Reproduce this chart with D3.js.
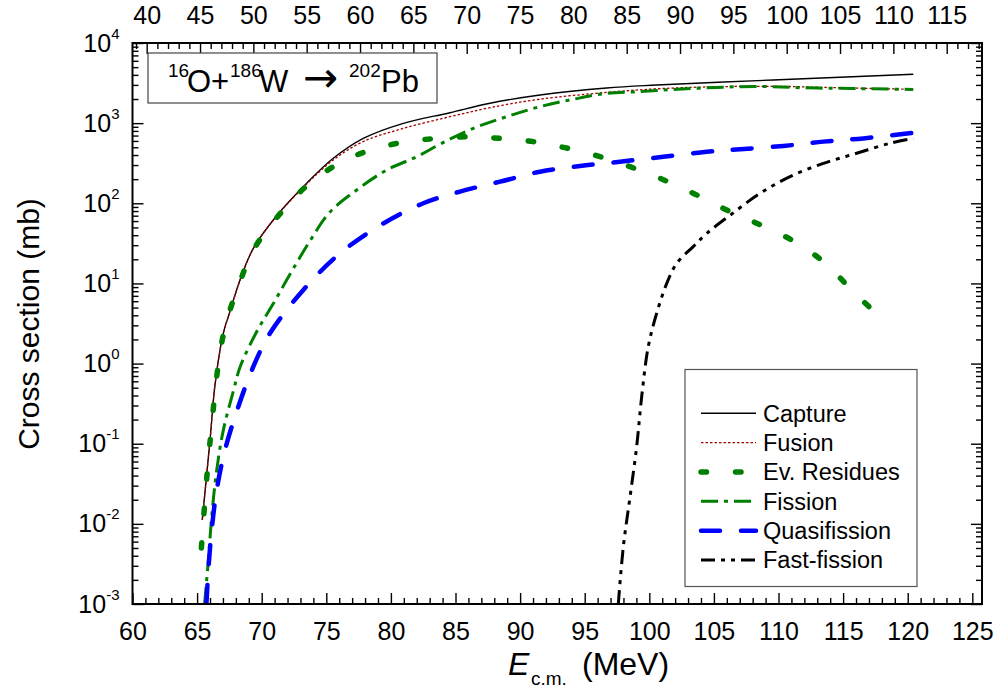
<!DOCTYPE html>
<html><head><meta charset="utf-8">
<script src="https://cdn.jsdelivr.net/npm/d3@7"></script>
<style>
body{margin:0;background:#fff;}
svg text{font-family:"Liberation Sans",Arial,Helvetica,sans-serif;fill:#000;}
</style></head><body>
<svg id="chart" width="996" height="698"></svg>
<script>
// ---------- data ----------
const xTickLabels = [60,65,70,75,80,85,90,95,100,105,110,115,120,125];
const topTickLabels = [40,45,50,55,60,65,70,75,80,85,90,95,100,105,110,115];
const yTickExponents = [-3,-2,-1,0,1,2,3,4];

const captureE = [65.40,66.00,66.39,67.03,67.55,68.32,69.35,71.16,73.48,75.54,77.86,80.96,84.57,87.67,91.54,96.70,100.57,109.60,114.76,120.43];
const captureS = [0.0112,0.111,0.55,2.4,4.5,11,27.4,70,178,364,645,995,1350,1770,2245,2750,2990,3460,3730,4075];

const fusionE = [65.40,66.00,66.39,67.03,67.55,68.32,69.35,71.16,73.48,75.54,77.86,80.96,84.57,87.67,91.54,96.70,100.57,104.44,109.60,114.76,120.43];
const fusionS = [0.0112,0.111,0.55,2.35,4.45,10.9,27.2,69,174,347,589,861,1203,1560,1990,2420,2680,2830,2880,2760,2640];

const residuesE = [65.33,66.00,67.03,68.32,69.35,71.16,73.48,76.20,78.64,81.22,83.54,86.12,88.44,91.02,93.47,95.93,98.51,100.96,103.54,105.99,108.44,111.02,113.47,115.79,118.50];
const residuesS = [0.005,0.105,2.3,10.5,26,66,165,330,472,588,645,678,645,588,494,393,286,201,130,82.4,55.2,34.8,18.7,7.9,3.03];

const fissionE = [65.58,65.87,66.13,66.52,67.03,67.80,68.32,69.61,70.90,72.19,73.74,75.29,77.35,79.67,82.00,83.92,86.38,88.96,91.54,94.12,96.70,99.28,101.86,104.44,107.02,109.60,112.18,114.76,117.31,120.43];
const fissionS = [0.001,0.0035,0.0123,0.047,0.148,0.45,0.9,2.5,5.6,13.0,34.0,78,146.5,260,381,560,861,1203,1607,1985,2355,2470,2630,2755,2850,2850,2755,2720,2680,2630];

const quasiE = [65.72,65.87,66.13,66.52,67.16,68.19,69.35,70.64,73.22,76.07,79.41,82.51,85.35,88.45,91.54,94.64,97.73,101.08,104.44,107.02,110.37,113.47,116.56,120.43];
const quasiS = [0.001,0.00265,0.0084,0.0265,0.0836,0.29,0.914,2.39,8.3,23.8,56,100,140,186,248,292,330,381,440,472,519,588,645,760];

const fastE = [97.60,97.99,98.51,99.02,99.41,99.92,100.57,101.35,102.12,103.40,104.44,106.38,108.57,110.89,113.47,116.05,118.63,120.43];
const fastS = [0.001,0.0052,0.0218,0.0918,0.386,1.63,4.24,10.0,17.8,28.8,42,73.5,133,215,315,421,561,645];

const seriesNames = ["Capture","Fusion","Ev. Residues","Fission","Quasifission","Fast-fission"];

// ---------- layout ----------
const L = 132.5, R = 982, T = 43, B = 604;
const svg = d3.select("#chart");
const x = d3.scaleLinear().domain([60,125.75]).range([L,R]);
const xTop = d3.scaleLinear().domain([38.67,118.31]).range([L,R]);
const y = d3.scaleLog().domain([1e-3,1e4]).range([B,T]);

const styles = {
  "Capture":      {color:"#000000", width:1.4, dash:null, cap:"butt"},
  "Fusion":       {color:"#a00000", width:1.3, dash:"2.5,2", cap:"butt"},
  "Ev. Residues": {color:"#008000", width:5.5, dash:"5.5,29", cap:"round"},
  "Fission":      {color:"#008000", width:3, dash:"17,6,4,6", cap:"butt"},
  "Quasifission": {color:"#0000ff", width:4.5, dash:"19,21", cap:"round"},
  "Fast-fission": {color:"#000000", width:3, dash:"14,6,4,6,4,6", cap:"butt"}
};
const seriesData = {
  "Capture": captureE.map((e,i)=>[e,captureS[i]]),
  "Fusion": fusionE.map((e,i)=>[e,fusionS[i]]),
  "Ev. Residues": residuesE.map((e,i)=>[e,residuesS[i]]),
  "Fission": fissionE.map((e,i)=>[e,fissionS[i]]),
  "Quasifission": quasiE.map((e,i)=>[e,quasiS[i]]),
  "Fast-fission": fastE.map((e,i)=>[e,fastS[i]])
};

svg.append("defs").append("clipPath").attr("id","plotclip")
  .append("rect").attr("x",L).attr("y",T).attr("width",R-L).attr("height",B-T);

// ---------- curves ----------
const line = d3.line().x(d=>x(d[0])).y(d=>y(d[1])).curve(d3.curveCatmullRom.alpha(0.5));
const gCurves = svg.append("g").attr("clip-path","url(#plotclip)");
seriesNames.forEach(n=>{
  const s = styles[n];
  gCurves.append("path").datum(seriesData[n]).attr("d",line)
    .attr("fill","none").attr("stroke",s.color).attr("stroke-width",s.width)
    .attr("stroke-dasharray",s.dash).attr("stroke-linecap",s.cap);
});

// ---------- axes ----------
const tickStyle = g=>{ g.select(".domain").remove(); g.selectAll(".tick line").attr("stroke","#000").attr("stroke-width",1.4); };
const fontTick = 25;

svg.append("g").attr("transform",`translate(0,${B})`)
  .call(d3.axisBottom(x).tickValues(xTickLabels).tickSizeInner(-11).tickSizeOuter(0).tickPadding(18).tickFormat(d3.format("d")))
  .call(tickStyle)
  .call(g=>g.selectAll(".tick text").attr("font-size",fontTick).attr("font-family",null));
svg.append("g").attr("transform",`translate(0,${B})`)
  .call(d3.axisBottom(x).tickValues(d3.range(60,126,1).filter(v=>v%5!==0)).tickSizeInner(-6).tickSizeOuter(0).tickFormat(""))
  .call(tickStyle);
svg.append("g").attr("transform",`translate(0,${T})`)
  .call(d3.axisTop(xTop).tickValues(topTickLabels).tickSizeInner(-11).tickSizeOuter(0).tickPadding(19).tickFormat(d3.format("d")))
  .call(tickStyle)
  .call(g=>g.selectAll(".tick text").attr("font-size",fontTick).attr("font-family",null));
svg.append("g").attr("transform",`translate(0,${T})`)
  .call(d3.axisTop(xTop).tickValues(d3.range(39,119,1).filter(v=>v%5!==0)).tickSizeInner(-6).tickSizeOuter(0).tickFormat(""))
  .call(tickStyle);

const majorY = yTickExponents.map(e=>Math.pow(10,e));
const minorY = [];
yTickExponents.slice(0,-1).forEach(e=>{ for(let k=2;k<=9;k++) minorY.push(k*Math.pow(10,e)); });
svg.append("g").attr("transform",`translate(${L},0)`)
  .call(d3.axisLeft(y).tickValues(majorY).tickSizeInner(-11).tickSizeOuter(0).tickPadding(13))
  .call(tickStyle)
  .call(g=>g.selectAll(".tick text").attr("font-size",fontTick).attr("font-family",null).each(function(d){
    const t=d3.select(this); const e=Math.round(Math.log10(d));
    t.text(null);
    t.append("tspan").text("10");
    t.append("tspan").attr("dy",-13).attr("font-size",15).text(e);
  }));
svg.append("g").attr("transform",`translate(${L},0)`)
  .call(d3.axisLeft(y).tickValues(minorY).tickSizeInner(-6).tickSizeOuter(0).tickFormat(""))
  .call(tickStyle);
svg.append("g").attr("transform",`translate(${R},0)`)
  .call(d3.axisRight(y).tickValues(majorY).tickSizeInner(-11).tickSizeOuter(0).tickFormat(""))
  .call(tickStyle);
svg.append("g").attr("transform",`translate(${R},0)`)
  .call(d3.axisRight(y).tickValues(minorY).tickSizeInner(-6).tickSizeOuter(0).tickFormat(""))
  .call(tickStyle);

svg.append("rect").attr("x",L).attr("y",T).attr("width",R-L).attr("height",B-T)
  .attr("fill","none").attr("stroke","#000").attr("stroke-width",2);

// ---------- axis titles ----------
svg.append("text").attr("transform","translate(39,324) rotate(-90)")
  .attr("text-anchor","middle").attr("font-size",30).text("Cross section (mb)");
const xt = svg.append("text").attr("y",675).attr("font-size",32);
xt.append("tspan").attr("x",508).attr("font-style","italic").text("E");
xt.append("tspan").attr("x",531).attr("dy",10).attr("font-size",19).text("c.m.");
xt.append("tspan").attr("x",582).attr("dy",-10).text("(MeV)");

// ---------- reaction box ----------
svg.append("rect").attr("x",148).attr("y",53).attr("width",289).attr("height",50)
  .attr("fill","#fff").attr("stroke","#444").attr("stroke-width",1.2);
const rt = svg.append("text").attr("y",92).attr("font-size",31);
rt.append("tspan").attr("x",168).attr("dy",-15).attr("font-size",19).text("16");
rt.append("tspan").attr("x",187).attr("dy",15).text("O+");
rt.append("tspan").attr("x",230).attr("dy",-15).attr("font-size",19).text("186");
rt.append("tspan").attr("x",259).attr("dy",15).text("W");
rt.append("tspan").attr("x",303).attr("font-family","DejaVu Sans").attr("font-size",42).text("→");
rt.append("tspan").attr("x",349).attr("dy",-15).attr("font-size",19).text("202");
rt.append("tspan").attr("x",381).attr("dy",15).text("Pb");

// ---------- legend ----------
const lg = svg.append("g");
lg.append("rect").attr("x",685).attr("y",369.5).attr("width",232).attr("height",217)
  .attr("fill","#fff").attr("stroke","#555").attr("stroke-width",1.2);
seriesNames.forEach((n,i)=>{
  const yy = 413.3 + i*29.35;
  const s = styles[n];
  lg.append("line").attr("x1",701).attr("x2",756).attr("y1",yy).attr("y2",yy)
    .attr("stroke",s.color).attr("stroke-width",s.width)
    .attr("stroke-dasharray",s.dash).attr("stroke-linecap",s.cap);
  lg.append("text").attr("x",763).attr("y",yy+8.4).attr("font-size",23.5).text(n);
});
</script>
</body></html>
